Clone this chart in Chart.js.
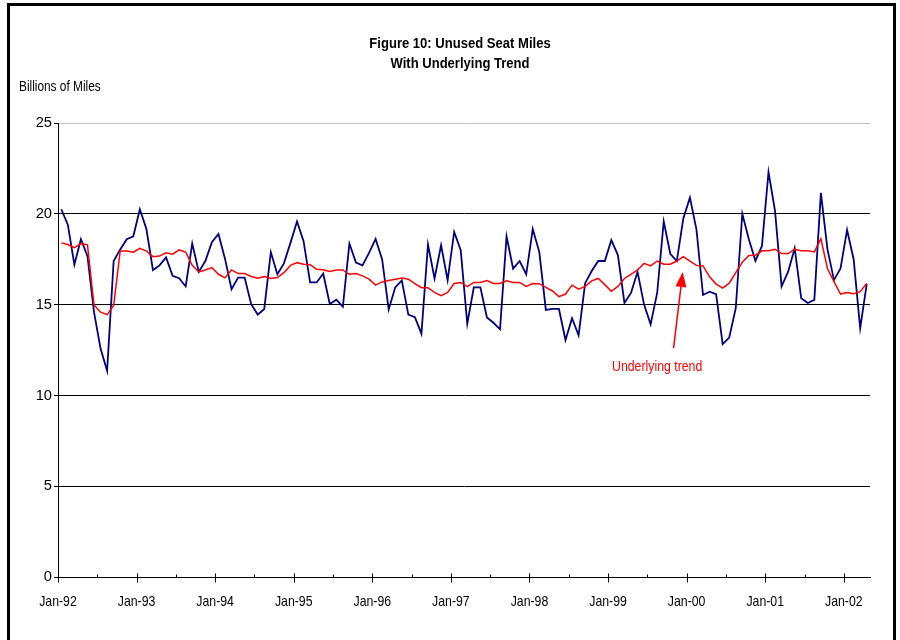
<!DOCTYPE html>
<html>
<head>
<meta charset="utf-8">
<title>Figure 10: Unused Seat Miles</title>
<script src="https://cdn.jsdelivr.net/npm/chart.js@4.4.1/dist/chart.umd.min.js"></script>
<style>
  html, body { margin: 0; padding: 0; background: #ffffff; }
  #wrap { width: 900px; height: 640px; position: relative; }
</style>
</head>
<body>
<div id="wrap"><canvas id="chart" width="900" height="640"></canvas></div>
<script>
// Monthly categories, Jan-92 .. Apr-02
const monthNames = ['Jan','Feb','Mar','Apr','May','Jun','Jul','Aug','Sep','Oct','Nov','Dec'];
const months = [];
for (let y = 92; y <= 102; y++) {
  for (let m = 0; m < 12; m++) {
    if (months.length < 124) months.push(monthNames[m] + '-' + String(y % 100).padStart(2, '0'));
  }
}

// Unused seat miles, billions
const unusedSeatMiles = [
  20.25, 19.40, 17.20, 18.60, 17.67, 14.58, 12.58, 11.35, 17.40, 18.04, 18.60, 18.76,
  20.25, 19.16, 16.90, 17.16, 17.60, 16.58, 16.45, 16.00, 18.36, 16.80, 17.40, 18.44,
  18.89, 17.53, 15.85, 16.49, 16.49, 15.02, 14.45, 14.76, 17.89, 16.67, 17.27, 18.40,
  19.58, 18.49, 16.22, 16.22, 16.71, 15.03, 15.27, 14.89, 18.36, 17.31, 17.16, 17.85,
  18.62, 17.49, 14.73, 15.95, 16.33, 14.45, 14.31, 13.40, 18.31, 16.44, 18.27, 16.35,
  19.00, 18.00, 13.95, 15.95, 15.95, 14.29, 14.00, 13.64, 18.76, 16.98, 17.40, 16.67,
  19.16, 17.89, 14.71, 14.76, 14.76, 13.05, 14.25, 13.31, 16.18, 16.85, 17.40, 17.40,
  18.55, 17.73, 15.09, 15.64, 16.80, 15.00, 13.91, 15.64, 19.58, 17.80, 17.40, 19.76,
  20.89, 19.13, 15.53, 15.71, 15.58, 12.82, 13.18, 14.80, 20.00, 18.60, 17.41, 18.23,
  22.30, 20.15, 16.00, 16.81, 18.10, 15.35, 15.09, 15.26, 21.15, 18.05, 16.35, 16.99,
  19.11, 17.50, 13.70, 16.13
];

// Underlying trend
const underlyingTrend = [
  18.40, 18.31, 18.13, 18.36, 18.29, 14.98, 14.58, 14.45, 14.95, 17.95, 17.95, 17.89,
  18.10, 17.95, 17.64, 17.67, 17.85, 17.78, 18.01, 17.89, 17.16, 16.80, 16.91, 17.04,
  16.67, 16.47, 16.91, 16.71, 16.71, 16.55, 16.45, 16.55, 16.44, 16.49, 16.76, 17.16,
  17.31, 17.22, 17.20, 16.95, 16.92, 16.82, 16.91, 16.91, 16.67, 16.71, 16.58, 16.40,
  16.07, 16.25, 16.33, 16.40, 16.47, 16.40, 16.16, 15.93, 15.93, 15.67, 15.49, 15.67,
  16.16, 16.22, 15.99, 16.22, 16.22, 16.33, 16.16, 16.16, 16.31, 16.22, 16.22, 16.00,
  16.16, 16.15, 15.95, 15.75, 15.44, 15.58, 16.07, 15.85, 16.00, 16.31, 16.44, 16.10,
  15.73, 16.00, 16.44, 16.67, 16.91, 17.27, 17.13, 17.40, 17.22, 17.22, 17.40, 17.64,
  17.40, 17.16, 17.13, 16.53, 16.13, 15.91, 16.18, 16.76, 17.33, 17.70, 17.72, 17.96,
  17.96, 18.05, 17.81, 17.81, 18.05, 17.96, 17.96, 17.90, 18.63, 16.99, 16.26, 15.58,
  15.67, 15.60, 15.71, 16.17
];

const yTicks = [0, 5, 10, 15, 20, 25];
const titleLines = ['Figure 10: Unused Seat Miles', 'With Underlying Trend'];
const yAxisLabel = 'Billions of Miles';
const trendNote = 'Underlying trend';

const FONT = "'Liberation Sans', Arial, sans-serif";

// each month is plotted in the middle of its slot on a month-index axis
const toPoints = arr => arr.map((v, i) => ({ x: i + 0.5, y: v }));

// narrow lettering: regular face squeezed horizontally
function drawNarrow(ctx, text, x, y, align, font, sx, color) {
  ctx.save();
  ctx.translate(x, y);
  ctx.scale(sx, 1);
  ctx.font = font;
  ctx.fillStyle = color || '#000000';
  ctx.textAlign = align;
  ctx.textBaseline = 'middle';
  ctx.fillText(text, 0, 0);
  ctx.restore();
}

// frame, headings, axis labels and the trend annotation
const decor = {
  id: 'decor',
  beforeDraw(chart) {
    const ctx = chart.ctx;
    ctx.save();
    ctx.fillStyle = '#ffffff';
    ctx.fillRect(0, 0, chart.width, chart.height);
    ctx.restore();
  },
  afterDraw(chart) {
    const ctx = chart.ctx;
    const xs = chart.scales.x, ys = chart.scales.y;
    ctx.save();
    // outer frame
    ctx.strokeStyle = '#000000';
    ctx.lineWidth = 3;
    ctx.strokeRect(8.5, 4.5, 886, 700);

    // x-axis tick marks: years cross the axis, half-years sit above it
    ctx.lineWidth = 1;
    const y0 = Math.round(ys.getPixelForValue(0)) + 0.5;
    for (let v = 0; v <= 120; v += 6) {
      const px = Math.round(xs.getPixelForValue(v)) + 0.5;
      ctx.beginPath();
      if (v % 12 === 0) { ctx.moveTo(px, y0 - 4); ctx.lineTo(px, y0 + 5); }
      else { ctx.moveTo(px, y0 - 3); ctx.lineTo(px, y0); }
      ctx.stroke();
    }
    ctx.restore();

    // tick labels
    for (let v = 0; v <= 120; v += 12) {
      drawNarrow(ctx, months[v], xs.getPixelForValue(v), y0 + 24, 'center', '15px ' + FONT, 0.82);
    }
    yTicks.forEach(v => {
      drawNarrow(ctx, String(v), ys.right - 6, ys.getPixelForValue(v), 'right', '15px ' + FONT, 0.98);
    });

    // headings
    drawNarrow(ctx, titleLines[0], 460, 44, 'center', 'bold 15px ' + FONT, 0.87);
    drawNarrow(ctx, titleLines[1], 460, 64, 'center', 'bold 15px ' + FONT, 0.87);
    drawNarrow(ctx, yAxisLabel, 19, 87, 'left', '15px ' + FONT, 0.79);

    // annotation arrow pointing at the trend line
    ctx.save();
    const tipX = xs.getPixelForValue(95.4), tipY = ys.getPixelForValue(16.8);
    const tailX = xs.getPixelForValue(94.0), tailY = ys.getPixelForValue(12.6);
    const ang = Math.atan2(tipY - tailY, tipX - tailX);
    const headLen = 15, headHalf = 5.5;
    const bx = tipX - headLen * Math.cos(ang), by = tipY - headLen * Math.sin(ang);
    ctx.strokeStyle = '#ff0000';
    ctx.fillStyle = '#ff0000';
    ctx.lineWidth = 1.5;
    ctx.beginPath();
    ctx.moveTo(tailX, tailY);
    ctx.lineTo(bx, by);
    ctx.stroke();
    ctx.beginPath();
    ctx.moveTo(tipX, tipY);
    ctx.lineTo(bx + headHalf * Math.sin(ang), by - headHalf * Math.cos(ang));
    ctx.lineTo(bx - headHalf * Math.sin(ang), by + headHalf * Math.cos(ang));
    ctx.closePath();
    ctx.fill();
    ctx.restore();

    drawNarrow(ctx, trendNote, xs.getPixelForValue(91.5), ys.getPixelForValue(11.55), 'center', '15px ' + FONT, 0.82, '#ff0000');
  }
};

new Chart(document.getElementById('chart'), {
  type: 'line',
  data: {
    labels: months,
    datasets: [
      {
        label: 'Underlying trend',
        data: toPoints(underlyingTrend),
        borderColor: '#ff0000',
        borderWidth: 1.5,
        pointRadius: 0,
        tension: 0,
        fill: false
      },
      {
        label: 'Unused seat miles',
        data: toPoints(unusedSeatMiles),
        borderColor: '#000080',
        borderWidth: 1.8,
        pointRadius: 0,
        tension: 0,
        fill: false
      }
    ]
  },
  options: {
    responsive: false,
    animation: false,
    events: [],
    layout: { padding: { left: 0, top: 123, right: 30, bottom: 0 } },
    plugins: {
      legend: { display: false },
      title: { display: false },
      tooltip: { enabled: false }
    },
    scales: {
      x: {
        type: 'linear',
        min: 0,
        max: 124,
        afterFit(scale) { scale.height = 63; },
        afterBuildTicks(scale) {
          scale.ticks = [];
          for (let v = 0; v <= 120; v += 12) scale.ticks.push({ value: v });
        },
        ticks: { display: false },
        grid: { display: false },
        border: { display: true, color: '#000000', width: 1 }
      },
      y: {
        min: 0,
        max: 25,
        afterFit(scale) { scale.width = 58; },
        afterBuildTicks(scale) { scale.ticks = yTicks.map(v => ({ value: v })); },
        ticks: { display: false },
        grid: {
          color: ctx => (ctx.tick && ctx.tick.value === 25) ? '#c0c0c0' : '#000000',
          tickColor: '#000000',
          tickLength: 4,
          lineWidth: 1
        },
        border: { display: true, color: '#000000', width: 1 }
      }
    }
  },
  plugins: [decor]
});
</script>
</body>
</html>
